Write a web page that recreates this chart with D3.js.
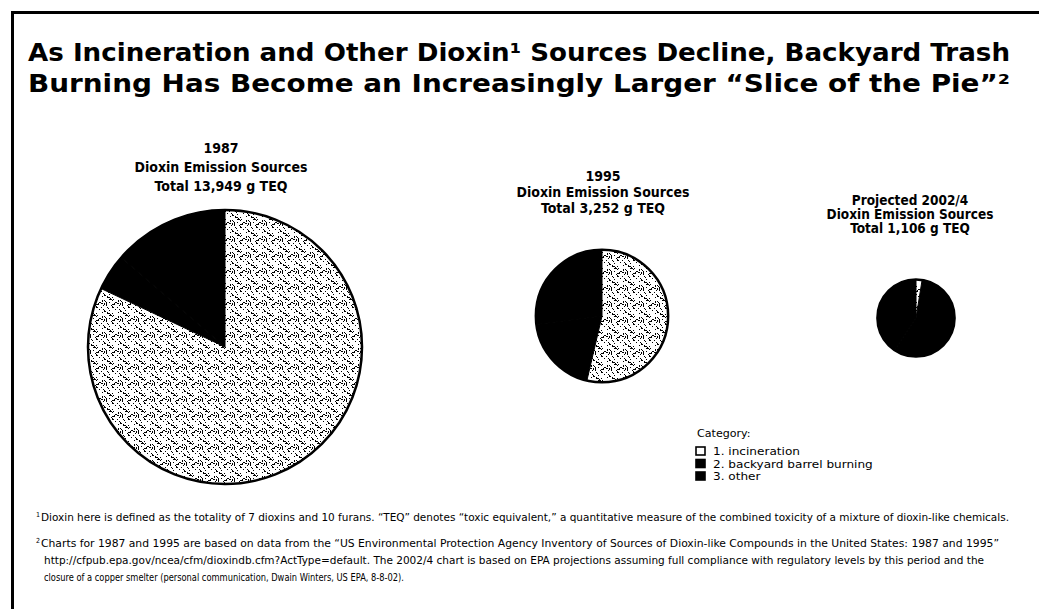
<!DOCTYPE html>
<html>
<head>
<meta charset="utf-8">
<script src="https://cdn.jsdelivr.net/npm/d3@7"></script>
<style>
  body { margin: 0; background: #fff; }
  svg text { fill: #000; }
</style>
</head>
<body>
<div id="chart"></div>
<script>
// data (g TEQ)
const years = ["1987", "1995", "Projected 2002/4"];
const totals = [13949, 3252, 1106];
const categories = ["1. incineration", "2. backyard barrel burning", "3. other"];
const incineration = [11440, 1745, 28];
const backyard = [604, 628, 628];
const other = [1905, 879, 450];

const titleLines = [
  "As Incineration and Other Dioxin\u00b9 Sources Decline, Backyard Trash",
  "Burning Has Become an Increasingly Larger \u201cSlice of the Pie\u201d\u00b2"
];
const footnote1 = "Dioxin here is defined as the totality of 7 dioxins and 10 furans. \u201cTEQ\u201d denotes \u201ctoxic equivalent,\u201d a quantitative measure of the combined toxicity of a mixture of dioxin-like chemicals.";
const footnote2 = [
  "Charts for 1987 and 1995 are based on data from the \u201cUS Environmental Protection Agency Inventory of  Sources of Dioxin-like Compounds in the United States: 1987 and 1995\u201d",
  "http://cfpub.epa.gov/ncea/cfm/dioxindb.cfm?ActType=default. The 2002/4 chart is based on EPA projections assuming full compliance with regulatory levels by this period and the",
  "closure of a copper smelter (personal communication, Dwain Winters, US EPA, 8-8-02)."
];

const width = 1039;
const height = 609;
const NARROW = "'DejaVu Sans Condensed', 'Liberation Sans Narrow', 'Liberation Sans', sans-serif";

let svg = d3.select("#chart")
            .append("svg")
            .attr("width", width)
            .attr("height", height);

// stipple pattern for the incineration slices
let pat = svg.append("defs")
             .append("pattern")
             .attr("id", "stipple")
             .attr("patternUnits", "userSpaceOnUse")
             .attr("width", 16)
             .attr("height", 16);
pat.append("rect").attr("width", 16).attr("height", 16).attr("fill", "#fff");
for (let i = 0; i < 16; i++) {
  for (let j = 0; j < 16; j++) {
    let h = ((i * 73856093) ^ (j * 19349663) ^ (i * j * 83492791)) >>> 0;
    if (h % 100 < 19) {
      pat.append("rect").attr("x", i).attr("y", j).attr("width", 1).attr("height", 1).attr("fill", "#000");
    }
  }
}

// frame (scan shows left and top edges)
svg.append("path")
   .attr("d", "M12.5,609 V12.5 H1039")
   .attr("fill", "none")
   .attr("stroke", "#000")
   .attr("stroke-width", 3);

// title
svg.append("g")
   .selectAll("text")
   .data(titleLines)
   .enter()
   .append("text")
   .attr("x", 28)
   .attr("y", (d, i) => 61 + i * 31)
   .attr("textLength", 982)
   .attr("lengthAdjust", "spacingAndGlyphs")
   .attr("font-family", "'DejaVu Sans', Verdana, sans-serif")
   .attr("font-weight", "bold")
   .attr("font-size", 25)
   .text(d => d);

// pies
const centers = [[225, 347], [602, 316], [916, 318]];
const labelX = [221, 603, 910];
const labelTop = [153, 181, 205];
const labelGap = [19, 16, 14];
const labelSize = [14, 14, 13.5];

let rScale = d3.scaleSqrt().domain([0, d3.max(totals)]).range([0, 137]);
let pie = d3.pie().sort(null).value(d => d);
let fills = ["url(#stipple)", "#000", "#000"];

years.forEach(function (yr, k) {
  let vals = [incineration[k], backyard[k], other[k]];
  let r = rScale(totals[k]);
  let arc = d3.arc().innerRadius(0).outerRadius(r);
  let g = svg.append("g")
             .attr("transform", `translate(${centers[k][0]},${centers[k][1]})`);

  g.selectAll("path")
   .data(pie(vals))
   .enter()
   .append("path")
   .attr("d", arc)
   .attr("fill", (d, i) => fills[i])
   .attr("stroke", (d, i) => i === 0 ? "none" : "#000")
   .attr("stroke-width", 1);

  g.append("circle")
   .attr("r", r)
   .attr("fill", "none")
   .attr("stroke", "#000")
   .attr("stroke-width", 2.5);

  let lines = [yr, "Dioxin Emission Sources", "Total " + d3.format(",")(totals[k]) + " g TEQ"];
  svg.append("g")
     .selectAll("text")
     .data(lines)
     .enter()
     .append("text")
     .attr("x", labelX[k])
     .attr("y", (d, i) => labelTop[k] + i * labelGap[k])
     .attr("text-anchor", "middle")
     .attr("font-family", NARROW)
     .attr("font-weight", "bold")
     .attr("font-size", labelSize[k])
     .text(d => d);
});

// the scan's legend font is wider than the condensed face
function widen(sel, f) {
  sel.each(function () {
    let w = this.getComputedTextLength();
    d3.select(this).attr("textLength", w * f).attr("lengthAdjust", "spacingAndGlyphs");
  });
}

// legend
let legend = svg.append("g").attr("font-family", NARROW).attr("font-size", 11);
legend.append("text").attr("x", 697).attr("y", 437).text("Category:").call(widen, 1.12);
let rows = legend.selectAll("g.row")
                 .data(categories)
                 .enter()
                 .append("g")
                 .attr("class", "row")
                 .attr("transform", (d, i) => `translate(0,${455 + i * 12.5})`);
rows.append("rect")
    .attr("x", 696)
    .attr("y", -8)
    .attr("width", 9)
    .attr("height", 8)
    .attr("fill", (d, i) => i === 0 ? "#fff" : "#000")
    .attr("stroke", "#000")
    .attr("stroke-width", 1.6);
rows.append("text")
    .attr("x", 713)
    .attr("y", 0)
    .text(d => d)
    .call(widen, 1.22);

// footnotes
let notes = svg.append("g").attr("font-family", NARROW).attr("font-size", 10.5);
notes.append("text").attr("x", 36).attr("y", 517).attr("font-size", 7).text("1");
notes.append("text").attr("x", 41).attr("y", 521)
     .attr("textLength", 968).attr("lengthAdjust", "spacingAndGlyphs")
     .text(footnote1);
notes.append("text").attr("x", 36).attr("y", 543).attr("font-size", 7).text("2");
const fnWidths = [958, 940, 360];
notes.selectAll("text.fn2")
     .data(footnote2)
     .enter()
     .append("text")
     .attr("class", "fn2")
     .attr("x", (d, i) => i === 0 ? 41 : 44)
     .attr("y", (d, i) => 547 + i * 17)
     .attr("textLength", (d, i) => fnWidths[i])
     .attr("lengthAdjust", "spacingAndGlyphs")
     .text(d => d);
</script>
</body>
</html>
